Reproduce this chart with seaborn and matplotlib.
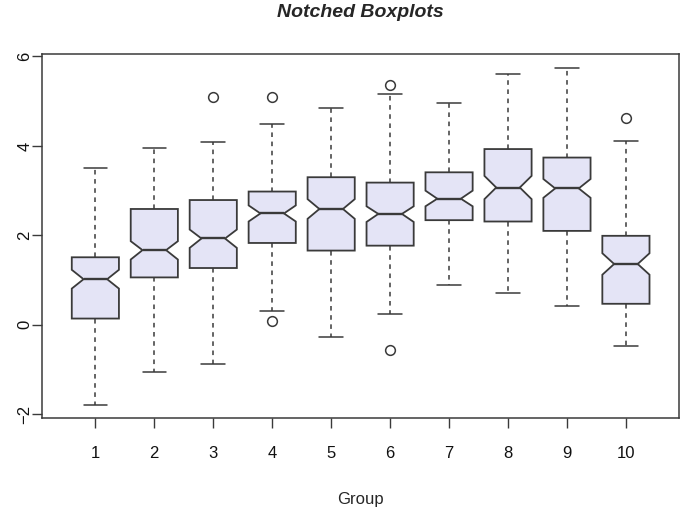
import matplotlib
matplotlib.use("Agg")
import matplotlib.pyplot as plt
import seaborn as sns

# Box statistics, one entry per group
groups = [1, 2, 3, 4, 5, 6, 7, 8, 9, 10]
whisker_low = [-1.79, -1.06, -0.87, 0.31, -0.28, 0.24, 0.90, 0.72, 0.42, -0.48]
q1 = [0.14, 1.06, 1.27, 1.83, 1.66, 1.77, 2.34, 2.31, 2.10, 0.47]
median = [1.02, 1.67, 1.93, 2.49, 2.59, 2.48, 2.82, 3.07, 3.05, 1.36]
q3 = [1.51, 2.59, 2.79, 2.98, 3.30, 3.18, 3.41, 3.93, 3.74, 1.99]
whisker_high = [3.51, 3.95, 4.09, 4.50, 4.85, 5.15, 4.95, 5.60, 5.75, 4.12]
notch_low = [0.81, 1.46, 1.72, 2.31, 2.37, 2.30, 2.65, 2.81, 2.84, 1.12]
notch_high = [1.23, 1.87, 2.13, 2.67, 2.81, 2.65, 3.00, 3.33, 3.26, 1.60]
outliers = [[], [], [5.09], [5.10, 0.09], [], [5.36, -0.57], [], [], [], [4.62]]

sns.set_theme(style="white")
plt.rcParams['font.family'] = ['Liberation Sans', 'DejaVu Sans']

edge = "#3a3a3a"
fill = "#e4e4f6"

stats = []
for i in range(len(groups)):
    stats.append({
        "label": str(groups[i]),
        "whislo": whisker_low[i],
        "q1": q1[i],
        "med": median[i],
        "q3": q3[i],
        "whishi": whisker_high[i],
        "cilo": notch_low[i],
        "cihi": notch_high[i],
        "fliers": outliers[i],
    })

fig = plt.figure(figsize=(6.8, 5.07), dpi=100)
ax = fig.add_axes([0.0622, 0.175, 0.9363, 0.718])

ax.bxp(stats, positions=groups, widths=0.8, shownotches=True, patch_artist=True,
       boxprops=dict(facecolor=fill, edgecolor=edge, linewidth=1.3),
       whiskerprops=dict(color=edge, linewidth=1.1, linestyle=(0, (3, 3))),
       capprops=dict(color=edge, linewidth=1.1),
       medianprops=dict(color=edge, linewidth=1.7),
       flierprops=dict(marker='o', markerfacecolor='none', markeredgecolor=edge,
                       markersize=7, markeredgewidth=1.1),
       capwidths=0.4)

ax.set_xlim(0.1, 10.9)
ax.set_ylim(-2.09, 6.05)
ax.set_yticks([-2, 0, 2, 4, 6])
ax.set_xticks(groups)
ax.set_xticklabels([str(g) for g in groups])

for s in ax.spines.values():
    s.set_color(edge)
    s.set_linewidth(1.1)
    s.set_visible(True)

ax.tick_params(axis='both', direction='out', length=7, width=1.0, color=edge,
               labelsize=12, labelcolor='#111111', bottom=True, left=True)
ax.tick_params(axis='x', pad=13)
ax.tick_params(axis='y', pad=0)
for lab in ax.get_yticklabels():
    lab.set_rotation(90)
    lab.set_va('center')

ax.set_title('Notched Boxplots', fontsize=14, fontweight='bold', fontstyle='italic', pad=27)
ax.set_xlabel('Group', fontsize=12, labelpad=22)
ax.grid(False)

fig.savefig('out.png', dpi=100)
